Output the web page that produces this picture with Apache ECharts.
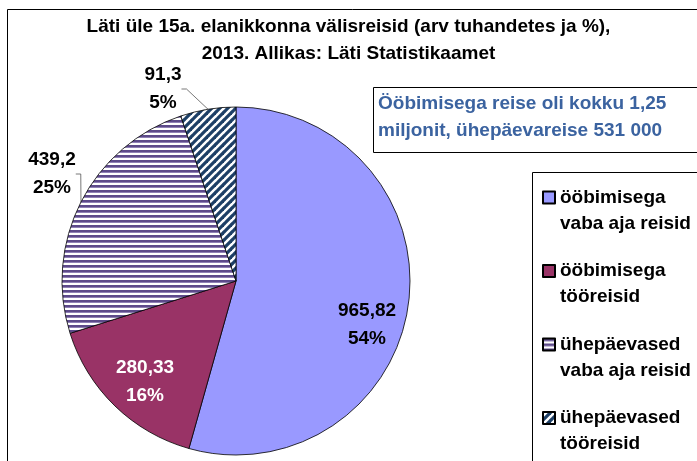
<!DOCTYPE html>
<html><head><meta charset="utf-8">
<script src="https://cdn.jsdelivr.net/npm/echarts@6/dist/echarts.min.js"></script>
<style>html,body{margin:0;padding:0;background:#fff}#c{width:697px;height:461px}</style>
</head><body><div id="c"></div>
<script>
const categories = ['ööbimisega vaba aja reisid', 'ööbimisega tööreisid', 'ühepäevased vaba aja reisid', 'ühepäevased tööreisid'];
const legendLines = [['ööbimisega', 'vaba aja reisid'], ['ööbimisega', 'tööreisid'], ['ühepäevased', 'vaba aja reisid'], ['ühepäevased', 'tööreisid']];
const values = [965.82, 280.33, 439.2, 91.3];
const titleLines = ['Läti üle 15a. elanikkonna välisreisid (arv tuhandetes ja %),', '2013. Allikas: Läti Statistikaamet'];
const noteLines = ['Ööbimisega reise oli kokku 1,25', 'miljonit, ühepäevareise 531 000'];

const FONT = "'Liberation Sans Narrow', 'Liberation Sans', sans-serif";
const FS = 19;

function hStripes() {
  const c = document.createElement('canvas'); c.width = 5; c.height = 5;
  const g = c.getContext('2d');
  g.fillStyle = '#ffffff'; g.fillRect(0, 0, 5, 5);
  g.fillStyle = '#5d4a8a'; g.fillRect(0, 0, 5, 2);
  g.fillStyle = '#8f80b5'; g.fillRect(0, 2, 5, 1);
  return c;
}
function dStripes() {
  const s = 8;
  const c = document.createElement('canvas'); c.width = s; c.height = s;
  const g = c.getContext('2d');
  g.fillStyle = '#ffffff'; g.fillRect(0, 0, s, s);
  g.strokeStyle = '#1d3f66'; g.lineWidth = 3.2;
  for (let k = -1; k <= 1; k++) {
    g.beginPath(); g.moveTo(k * s - 1, s + 1); g.lineTo(k * s + s + 1, -1); g.stroke();
  }
  return c;
}
const fills = ['#9999ff', '#993366', { image: hStripes(), repeat: 'repeat' }, { image: dStripes(), repeat: 'repeat' }];
const labelColors = ['#000', '#fff', '#000', '#000'];
const labelPos = [[367, 325], [145, 382], [52, 174], [163, 89]];

const total = values.reduce((a, b) => a + b, 0);
const fmt = v => String(v).replace('.', ',');

const chart = echarts.init(document.getElementById('c'), null, { renderer: 'canvas' });
chart.setOption({
  backgroundColor: '#fff',
  animation: false,
  title: {
    text: titleLines.join('\n'),
    left: 'center', top: 8,
    textStyle: { fontFamily: FONT, fontSize: FS, fontWeight: 'bold', color: '#000', lineHeight: 27 }
  },
  legend: {
    orient: 'vertical', left: 542, top: 162, padding: 0,
    itemWidth: 12, itemHeight: 12, itemGap: 2.5,
    icon: 'rect',
    data: categories,
    formatter: name => {
      const l = legendLines[categories.indexOf(name)];
      return '{s| }\n{t|' + l[0] + '}\n{t|' + l[1] + '}';
    },
    textStyle: {
      fontFamily: FONT, fontSize: FS, fontWeight: 'bold', color: '#000',
      rich: { s: { lineHeight: 26, fontSize: FS }, t: { lineHeight: 26, fontSize: FS, fontWeight: 'bold', fontFamily: FONT, color: '#000' } }
    }
  },
  graphic: [
    { type: 'rect', shape: { x: 7.5, y: 9.5, width: 720, height: 480 }, style: { fill: 'none', stroke: '#000', lineWidth: 1 }, z: 0 },
    { type: 'rect', shape: { x: 373.5, y: 87.5, width: 340, height: 65 }, style: { fill: '#fff', stroke: '#000', lineWidth: 1 }, z: 1 },
    { type: 'text', x: 378, y: 104, style: { text: noteLines[0], fontFamily: FONT, fontSize: FS, fontWeight: 'bold', fill: '#3b63a0', verticalAlign: 'middle' }, z: 2 },
    { type: 'text', x: 378, y: 131, style: { text: noteLines[1], fontFamily: FONT, fontSize: FS, fontWeight: 'bold', fill: '#3b63a0', verticalAlign: 'middle' }, z: 2 },
    { type: 'rect', shape: { x: 532.5, y: 172.5, width: 200, height: 320 }, style: { fill: 'none', stroke: '#000', lineWidth: 1 }, z: 1 }
  ],
  series: [{
    type: 'pie',
    center: [236, 281],
    radius: 174,
    startAngle: 90,
    clockwise: true,
    data: values.map((v, i) => ({
      name: categories[i], value: v,
      itemStyle: { color: fills[i] },
      label: { color: labelColors[i], position: i < 2 ? 'inside' : 'outside' },
      labelLine: { show: i >= 2 }
    })),
    itemStyle: { borderColor: '#000', borderWidth: 0.8 },
    label: {
      show: true,
      fontFamily: FONT, fontSize: FS, fontWeight: 'bold', lineHeight: 28,
      formatter: p => fmt(p.value) + '\n' + Math.round(p.value / total * 100) + '%'
    },
    labelLine: { lineStyle: { color: '#555', width: 0.8 }, length: 5, length2: 5 },
    labelLayout: p => ({ x: labelPos[p.dataIndex][0], y: labelPos[p.dataIndex][1], align: 'center', verticalAlign: 'middle' }),
    emphasis: { disabled: true }
  }]
});
</script></body></html>
